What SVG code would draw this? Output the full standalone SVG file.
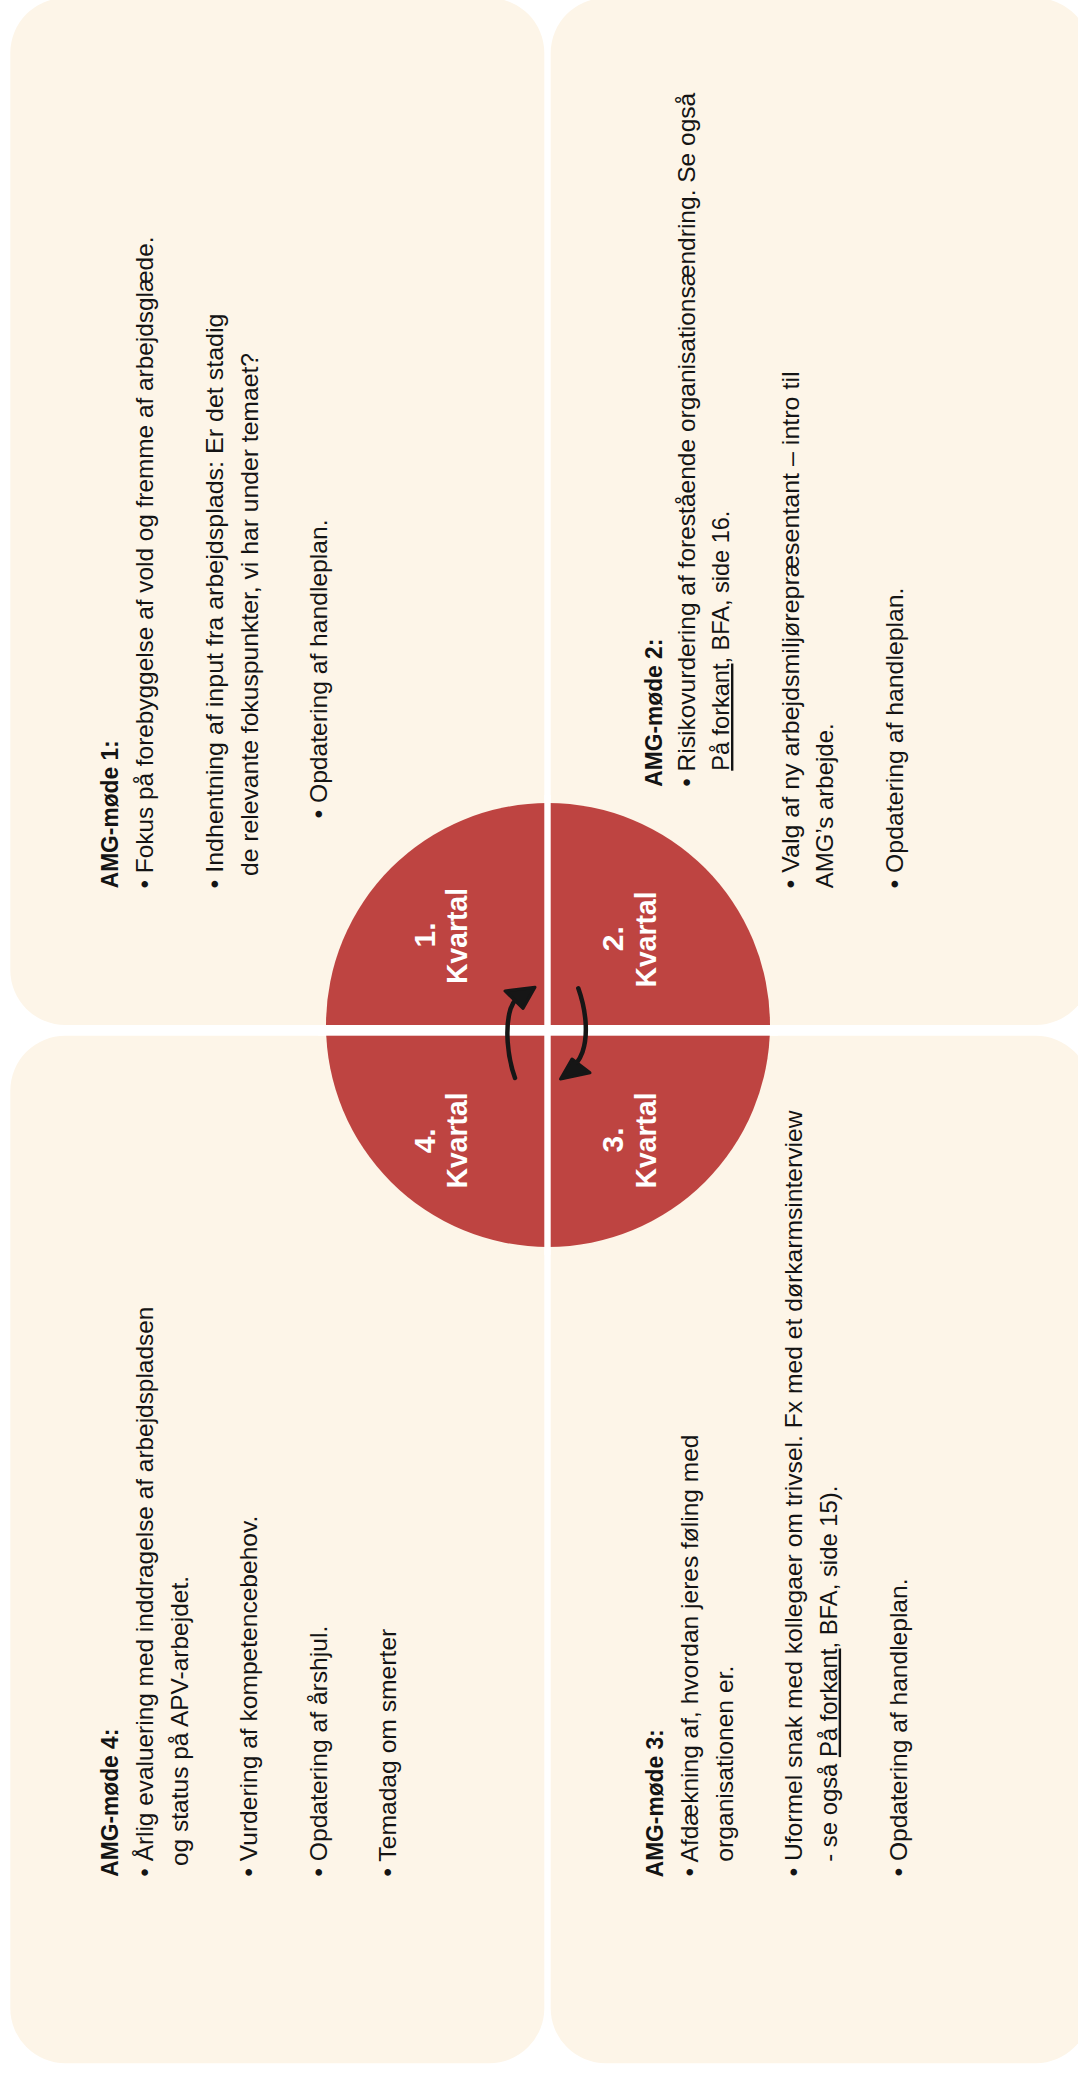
<svg xmlns="http://www.w3.org/2000/svg" width="1078" height="2074" viewBox="0 0 1078 2074">
  <defs>
    <style>
      .panel { fill: #FDF5E8; }
      .t { font-family: "Liberation Sans", Arial, sans-serif; font-size: 24px; fill: #141414; }
      .h { font-family: "Liberation Sans", Arial, sans-serif; font-size: 24px; font-weight: bold; fill: #141414; }
      .q { font-family: "Liberation Sans", Arial, sans-serif; font-size: 30px; font-weight: bold; fill: #FFFFFF; text-anchor: middle; }
      .u { text-decoration: underline; }
      .wheel { fill: #BE4441; }
      .gap { fill: #FFFFFF; }
      .shaft { fill: none; stroke: #161616; stroke-width: 4.5; stroke-linecap: round; }
      .head { fill: #161616; stroke: #161616; stroke-width: 3; stroke-linejoin: round; }
    </style>
  </defs>

  <rect width="1078" height="2074" fill="#FFFFFF"/>

  <!-- Quarter 1 meeting -->
  <g id="panel-q1">
    <rect class="panel" x="10.3" y="-2" width="534" height="1027" rx="55" ry="55"/>
    <g transform="rotate(-90)">
      <text class="h" x="-888.3" y="118.3" textLength="148" lengthAdjust="spacingAndGlyphs">AMG-møde 1:</text>
      <text class="t" x="-888.5" y="153.3" textLength="652" lengthAdjust="spacingAndGlyphs">• Fokus på forebyggelse af vold og fremme af arbejdsglæde.</text>
      <text class="t" x="-888.5" y="223.3" textLength="575" lengthAdjust="spacingAndGlyphs">• Indhentning af input fra arbejdsplads: Er det stadig</text>
      <text class="t" x="-876" y="258.3" textLength="523" lengthAdjust="spacingAndGlyphs">de relevante fokuspunkter, vi har under temaet?</text>
      <text class="t" x="-818.5" y="327.3" textLength="299" lengthAdjust="spacingAndGlyphs">• Opdatering af handleplan.</text>
    </g>
  </g>

  <!-- Quarter 2 meeting -->
  <g id="panel-q2">
    <rect class="panel" x="550.7" y="-2" width="540" height="1027" rx="55" ry="55"/>
    <g transform="rotate(-90)">
      <text class="h" x="-786.7" y="661.7" textLength="148" lengthAdjust="spacingAndGlyphs">AMG-møde 2:</text>
      <text class="t" x="-786.8" y="694.5" textLength="694" lengthAdjust="spacingAndGlyphs">• Risikovurdering af forestående organisationsændring. Se også</text>
      <text class="t" x="-770.7" y="729" textLength="260" lengthAdjust="spacingAndGlyphs"><tspan class="u">På forkant</tspan>, BFA, side 16.</text>
      <text class="t" x="-888.5" y="799.3" textLength="517" lengthAdjust="spacingAndGlyphs">• Valg af ny arbejdsmiljørepræsentant – intro til</text>
      <text class="t" x="-888.3" y="833.3" textLength="165" lengthAdjust="spacingAndGlyphs">AMG’s arbejde.</text>
      <text class="t" x="-888.5" y="903.3" textLength="301" lengthAdjust="spacingAndGlyphs">• Opdatering af handleplan.</text>
    </g>
  </g>

  <!-- Quarter 3 meeting -->
  <g id="panel-q3">
    <rect class="panel" x="550.7" y="1035.7" width="540" height="1027.5" rx="55" ry="55"/>
    <g transform="rotate(-90)">
      <text class="h" x="-1877.3" y="663.3" textLength="148" lengthAdjust="spacingAndGlyphs">AMG-møde 3:</text>
      <text class="t" x="-1876.5" y="698.3" textLength="442" lengthAdjust="spacingAndGlyphs">• Afdækning af, hvordan jeres føling med</text>
      <text class="t" x="-1861.7" y="733.3" textLength="196" lengthAdjust="spacingAndGlyphs">organisationen er.</text>
      <text class="t" x="-1876.5" y="801.7" textLength="766" lengthAdjust="spacingAndGlyphs">• Uformel snak med kollegaer om trivsel. Fx med et dørkarmsinterview</text>
      <text class="t" x="-1861.7" y="836.7" textLength="376" lengthAdjust="spacingAndGlyphs">- se også <tspan class="u">På forkant</tspan>, BFA, side 15).</text>
      <text class="t" x="-1876.5" y="906.7" textLength="298" lengthAdjust="spacingAndGlyphs">• Opdatering af handleplan.</text>
    </g>
  </g>

  <!-- Quarter 4 meeting -->
  <g id="panel-q4">
    <rect class="panel" x="10.3" y="1035.7" width="534" height="1027.5" rx="55" ry="55"/>
    <g transform="rotate(-90)">
      <text class="h" x="-1876.7" y="118.3" textLength="148" lengthAdjust="spacingAndGlyphs">AMG-møde 4:</text>
      <text class="t" x="-1876.7" y="152.7" textLength="570" lengthAdjust="spacingAndGlyphs">• Årlig evaluering med inddragelse af arbejdspladsen</text>
      <text class="t" x="-1866" y="187.7" textLength="290" lengthAdjust="spacingAndGlyphs">og status på APV-arbejdet.</text>
      <text class="t" x="-1876.7" y="256.7" textLength="361" lengthAdjust="spacingAndGlyphs">• Vurdering af kompetencebehov.</text>
      <text class="t" x="-1876.7" y="327.3" textLength="251" lengthAdjust="spacingAndGlyphs">• Opdatering af årshjul.</text>
      <text class="t" x="-1876.7" y="396" textLength="248" lengthAdjust="spacingAndGlyphs">• Temadag om smerter</text>
    </g>
  </g>

  <!-- Year wheel split into four quarters -->
  <g id="wheel">
    <circle class="wheel" cx="548" cy="1025" r="222"/>
    <rect class="gap" x="544.3" y="795" width="6.4" height="460"/>
    <rect class="gap" x="318" y="1025" width="460" height="10.7"/>
    <g transform="rotate(-90)">
      <g id="label-q1">
        <text class="q" x="-935" y="435">1.</text>
        <text class="q" x="-936" y="466.7" textLength="96" lengthAdjust="spacingAndGlyphs">Kvartal</text>
      </g>
      <g id="label-q2">
        <text class="q" x="-938.7" y="623.3">2.</text>
        <text class="q" x="-939.5" y="656" textLength="96" lengthAdjust="spacingAndGlyphs">Kvartal</text>
      </g>
      <g id="label-q3">
        <text class="q" x="-1140" y="623.3">3.</text>
        <text class="q" x="-1140.5" y="656" textLength="96" lengthAdjust="spacingAndGlyphs">Kvartal</text>
      </g>
      <g id="label-q4">
        <text class="q" x="-1140.8" y="435">4.</text>
        <text class="q" x="-1140.5" y="466.7" textLength="96" lengthAdjust="spacingAndGlyphs">Kvartal</text>
      </g>
    </g>
  </g>

  <!-- Circular arrows showing the yearly cycle -->
  <g id="connectors">
    <path class="shaft" d="M515,1078 C507,1056 505,1027 510.5,1009 C513.5,1000 518,995 527,990.5"/>
    <path class="head" d="M505,991 L535,987.3 L523,1008.5 Z"/>
    <path class="shaft" d="M578.3,988.3 C586,1010 588.5,1034 582.5,1052 C579,1062 573,1068 567,1073"/>
    <path class="head" d="M560.5,1079 L590,1072.7 L572,1059 Z"/>
  </g>
</svg>
